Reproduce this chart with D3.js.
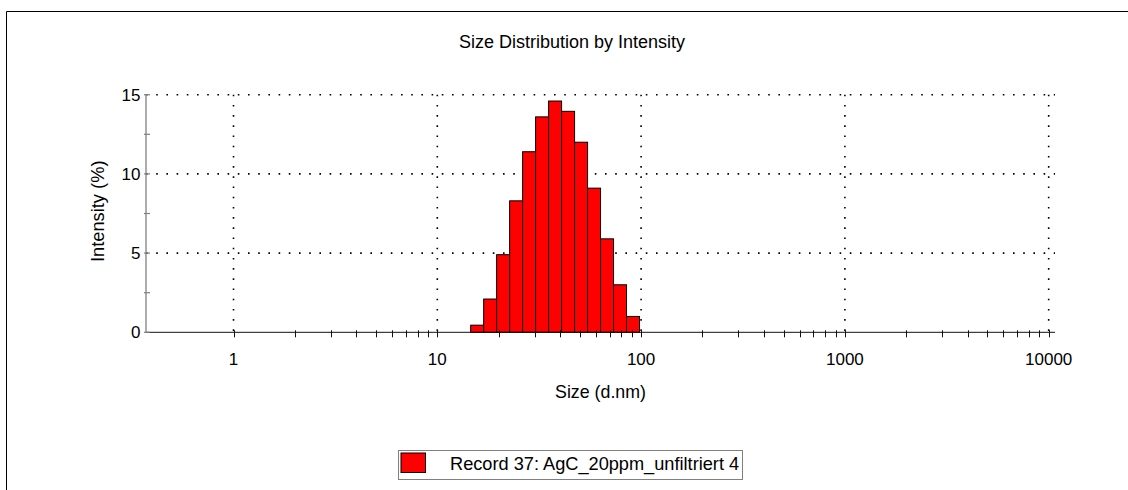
<!DOCTYPE html>
<html>
<head>
<meta charset="utf-8">
<script src="https://cdn.jsdelivr.net/npm/d3@7"></script>
<style>
  html, body { margin: 0; padding: 0; background: #fff; }
  svg { display: block; }
  text { font-family: "Liberation Sans", Arial, sans-serif; fill: #000; }
</style>
</head>
<body>
<svg id="chart" width="1128" height="490"></svg>
<script>
// ---- data ----
const sizes = [15.69, 18.17, 21.04, 24.36, 28.21, 32.67, 37.84, 43.82, 50.75, 58.77, 68.06, 78.82, 91.28]; // bin centres (d.nm)
const intensity = [0.45, 2.1, 4.9, 8.3, 11.4, 13.6, 14.6, 13.95, 12.0, 9.1, 5.9, 3.0, 1.0]; // %
const xTickValues = [1, 10, 100, 1000, 10000];
const xTickLabels = ["1", "10", "100", "1000", "10000"];
const yTickValues = [0, 5, 10, 15];
const yTickLabels = ["0", "5", "10", "15"];
const yMinorTicks = [2.5, 7.5, 12.5];
const xDomain = [0.372, 10740];
const yDomain = [0, 15];
const titleText = "Size Distribution by Intensity";
const xTitle = "Size (d.nm)";
const yTitle = "Intensity (%)";
const legendLabel = "Record 37: AgC_20ppm_unfiltriert 4";

// ---- layout ----
const svg = d3.select("#chart");
const pLeft = 146, pRight = 1055, pTop = 94.7, pBottom = 332.3;
const x = d3.scaleLog().domain(xDomain).range([pLeft, pRight]);
const y = d3.scaleLinear().domain(yDomain).range([pBottom, pTop]);

// outer frame (only top and left visible)
svg.append("line").attr("x1", 6.5).attr("x2", 1128).attr("y1", 11.5).attr("y2", 11.5)
  .attr("stroke", "#000").attr("stroke-width", 1);
svg.append("line").attr("x1", 6.5).attr("x2", 6.5).attr("y1", 11.5).attr("y2", 490)
  .attr("stroke", "#000").attr("stroke-width", 1);

// title
svg.append("text").attr("x", 572).attr("y", 48.3).attr("text-anchor", "middle")
  .style("font-size", "18px").text(titleText);

// grid
const gridG = svg.append("g");
yTickValues.filter(v => v > 0).forEach(v => {
  gridG.append("line").attr("x1", pLeft).attr("x2", pRight).attr("y1", y(v)).attr("y2", y(v))
    .attr("stroke", "#000").attr("stroke-width", 1.6).attr("stroke-dasharray", "1.6,8.6");
});
xTickValues.forEach(v => {
  gridG.append("line").attr("x1", x(v)).attr("x2", x(v)).attr("y1", pTop).attr("y2", pBottom)
    .attr("stroke", "#000").attr("stroke-width", 1.6).attr("stroke-dasharray", "1.6,8.6");
});

// bars
const ratio = sizes[1] / sizes[0];
function edgeLo(i) { return i === 0 ? sizes[0] / Math.sqrt(ratio) : Math.sqrt(sizes[i - 1] * sizes[i]); }
function edgeHi(i) { return i === sizes.length - 1 ? sizes[i] * Math.sqrt(ratio) : Math.sqrt(sizes[i] * sizes[i + 1]); }
svg.append("g").selectAll("rect").data(sizes).join("rect")
  .attr("x", (d, i) => x(edgeLo(i)))
  .attr("width", (d, i) => x(edgeHi(i)) - x(edgeLo(i)))
  .attr("y", (d, i) => y(intensity[i]))
  .attr("height", (d, i) => y(0) - y(intensity[i]))
  .attr("fill", "#ff0000").attr("stroke", "#000").attr("stroke-width", 1);

// x axis
const xMinor = [];
for (let dec = 1; dec < 10000; dec *= 10) for (let m = 2; m <= 9; m++) xMinor.push(dec * m);
const xAxisG = svg.append("g");
xAxisG.append("line").attr("x1", pLeft).attr("x2", pRight).attr("y1", pBottom).attr("y2", pBottom)
  .attr("stroke", "#111").attr("stroke-width", 1);
xAxisG.selectAll("line.tick").data(xTickValues.concat(xMinor)).join("line").attr("class", "tick")
  .attr("x1", d => Math.round(x(d)) + 0.5).attr("x2", d => Math.round(x(d)) + 0.5)
  .attr("y1", pBottom - 2).attr("y2", pBottom + 5)
  .attr("stroke", "#111").attr("stroke-width", 1);
xAxisG.selectAll("text").data(xTickValues).join("text")
  .attr("x", d => x(d)).attr("y", 365).attr("text-anchor", "middle")
  .style("font-size", "17px").text((d, i) => xTickLabels[i]);
svg.append("text").attr("x", (pLeft + pRight) / 2).attr("y", 398).attr("text-anchor", "middle")
  .style("font-size", "17.8px").text(xTitle);

// y axis
const yAxisG = svg.append("g");
yAxisG.append("line").attr("x1", pLeft).attr("x2", pLeft).attr("y1", pTop).attr("y2", pBottom)
  .attr("stroke", "#808080").attr("stroke-width", 1.3);
yAxisG.selectAll("line.tick").data(yTickValues.concat(yMinorTicks)).join("line").attr("class", "tick")
  .attr("x1", pLeft - 2).attr("x2", pLeft + 4)
  .attr("y1", d => y(d)).attr("y2", d => y(d))
  .attr("stroke", "#808080").attr("stroke-width", 1.2);
yAxisG.selectAll("text").data(yTickValues).join("text")
  .attr("x", 140.5).attr("y", d => y(d) + 6).attr("text-anchor", "end")
  .style("font-size", "17px").text((d, i) => yTickLabels[i]);
svg.append("text").attr("transform", "translate(104.3,211.3) rotate(-90)")
  .attr("text-anchor", "middle").style("font-size", "18.3px").text(yTitle);

// legend
const lg = svg.append("g");
lg.append("rect").attr("x", 398.5).attr("y", 450.5).attr("width", 344).attr("height", 29)
  .attr("fill", "#fff").attr("stroke", "#808080").attr("stroke-width", 1);
lg.append("rect").attr("x", 401).attr("y", 453).attr("width", 24.5).attr("height", 19.5)
  .attr("fill", "#ff0000").attr("stroke", "#000").attr("stroke-width", 1);
lg.append("text").attr("x", 450).attr("y", 469.5).style("font-size", "18.2px").text(legendLabel);
</script>
</body>
</html>
